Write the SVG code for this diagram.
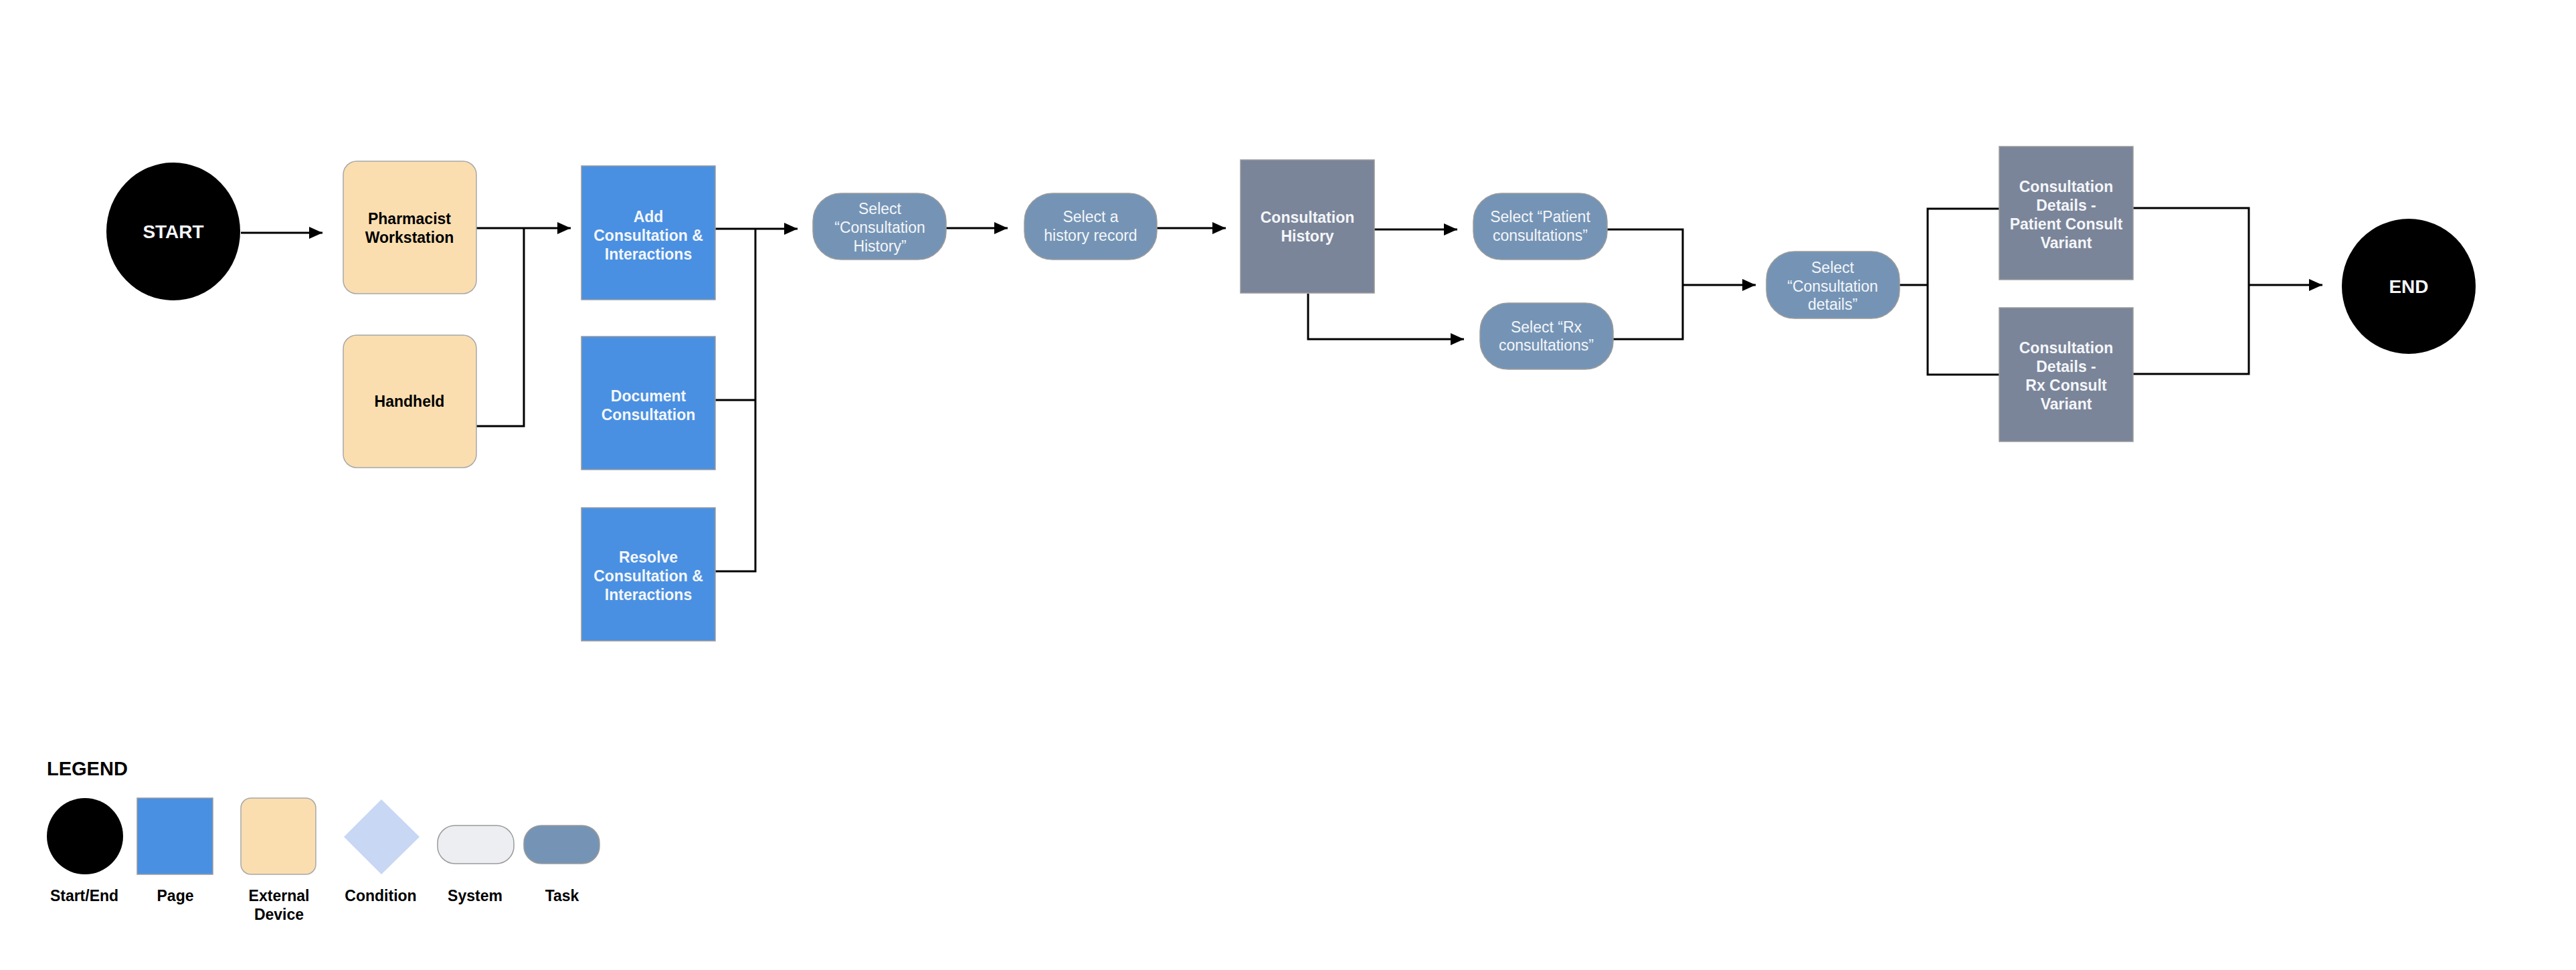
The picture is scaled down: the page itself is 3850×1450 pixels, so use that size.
<svg xmlns="http://www.w3.org/2000/svg" width="3850" height="1450" viewBox="0 0 3850 1450">
<style>
.t{font-family:"Liberation Sans",Arial,Helvetica,sans-serif;font-size:23px;text-anchor:middle}
.b{font-weight:bold}
.w{fill:#f4f6fa}
.k{fill:#000}
.page{fill:#4a90e2;stroke:#9b9b9b;stroke-width:1.5}
.ext{fill:#fadeb0;stroke:#a8a8a8;stroke-width:1.5}
.scr{fill:#7b8599;stroke:#9b9b9b;stroke-width:1.5}
.task{fill:#7594b5;stroke:#9b9b9b;stroke-width:1.5}
.sys{fill:#eceef2;stroke:#9b9b9b;stroke-width:1.5}
.se{fill:#000}
.c{fill:none;stroke:#000;stroke-width:3}
</style>
<defs>
<marker id="ah" markerUnits="userSpaceOnUse" markerWidth="22" markerHeight="20" refX="20" refY="9" orient="auto">
<path d="M0,0 L20,9 L0,18 Z" fill="#000"/>
</marker>
</defs>
<rect width="3850" height="1450" fill="#fff"/>
<g id="connectors">
<path class="c" d="M360 348 H482" marker-end="url(#ah)"/>
<path class="c" d="M712 341 H853" marker-end="url(#ah)"/>
<path class="c" d="M712 637 H783 V341"/>
<path class="c" d="M1069 342 H1192" marker-end="url(#ah)"/>
<path class="c" d="M1069 598 H1129"/>
<path class="c" d="M1069 854 H1129 V342"/>
<path class="c" d="M1414 341 H1506" marker-end="url(#ah)"/>
<path class="c" d="M1729 341 H1832" marker-end="url(#ah)"/>
<path class="c" d="M2054 343 H2178" marker-end="url(#ah)"/>
<path class="c" d="M1955 439 V507 H2188" marker-end="url(#ah)"/>
<path class="c" d="M2402 343 H2515 V507 H2411"/>
<path class="c" d="M2515 426 H2624" marker-end="url(#ah)"/>
<path class="c" d="M2839 426 H2881"/>
<path class="c" d="M2988 312 H2881 V560 H2988"/>
<path class="c" d="M3188 311 H3361 V559 H3188"/>
<path class="c" d="M3361 426 H3471" marker-end="url(#ah)"/>
</g>
<g id="start">
<ellipse class="se" cx="259" cy="346" rx="100" ry="103"/>
<text class="t b w" x="259" y="356" style="font-size:28px">START</text>
</g>
<g id="pharmacist-workstation">
<rect class="ext" x="513" y="241" width="199" height="198" rx="20"/>
<text class="t b k" x="612" y="335">Pharmacist<tspan x="612" dy="28">Workstation</tspan></text>
</g>
<g id="handheld">
<rect class="ext" x="513" y="501" width="199" height="198" rx="20"/>
<text class="t b k" x="612" y="608">Handheld</text>
</g>
<g id="add-consultation">
<rect class="page" x="869" y="248" width="200" height="200"/>
<text class="t b w" x="969" y="332">Add<tspan x="969" dy="28">Consultation &amp;</tspan><tspan x="969" dy="28">Interactions</tspan></text>
</g>
<g id="document-consultation">
<rect class="page" x="869" y="503" width="200" height="199"/>
<text class="t b w" x="969" y="600">Document<tspan x="969" dy="28">Consultation</tspan></text>
</g>
<g id="resolve-consultation">
<rect class="page" x="869" y="759" width="200" height="199"/>
<text class="t b w" x="969" y="841">Resolve<tspan x="969" dy="28">Consultation &amp;</tspan><tspan x="969" dy="28">Interactions</tspan></text>
</g>
<g id="select-consultation-history">
<rect class="task" x="1215" y="289" width="199" height="99" rx="42"/>
<text class="t w" x="1315" y="320">Select<tspan x="1315" dy="28">“Consultation</tspan><tspan x="1315" dy="28">History”</tspan></text>
</g>
<g id="select-history-record">
<rect class="task" x="1531" y="289" width="198" height="99" rx="42"/>
<text class="t w" x="1630" y="332">Select a<tspan x="1630" dy="28">history record</tspan></text>
</g>
<g id="consultation-history">
<rect class="scr" x="1854" y="239" width="200" height="199"/>
<text class="t b w" x="1954" y="333">Consultation<tspan x="1954" dy="28">History</tspan></text>
</g>
<g id="select-patient-consultations">
<rect class="task" x="2202" y="289" width="200" height="99" rx="42"/>
<text class="t w" x="2302" y="332">Select “Patient<tspan x="2302" dy="28">consultations”</tspan></text>
</g>
<g id="select-rx-consultations">
<rect class="task" x="2212" y="453" width="199" height="99" rx="42"/>
<text class="t w" x="2311" y="497">Select “Rx<tspan x="2311" dy="27">consultations”</tspan></text>
</g>
<g id="select-consultation-details">
<rect class="task" x="2640" y="376" width="199" height="100" rx="42"/>
<text class="t w" x="2739" y="408">Select<tspan x="2739" dy="28">“Consultation</tspan><tspan x="2739" dy="27">details”</tspan></text>
</g>
<g id="details-patient-variant">
<rect class="scr" x="2988" y="219" width="200" height="199"/>
<text class="t b w" x="3088" y="287">Consultation<tspan x="3088" dy="28">Details -</tspan><tspan x="3088" dy="28">Patient Consult</tspan><tspan x="3088" dy="28">Variant</tspan></text>
</g>
<g id="details-rx-variant">
<rect class="scr" x="2988" y="460" width="200" height="200"/>
<text class="t b w" x="3088" y="528">Consultation<tspan x="3088" dy="28">Details -</tspan><tspan x="3088" dy="28">Rx Consult</tspan><tspan x="3088" dy="28">Variant</tspan></text>
</g>
<g id="end">
<ellipse class="se" cx="3600" cy="428" rx="100" ry="101"/>
<text class="t b w" x="3600" y="438" style="font-size:28px">END</text>
</g>
<g id="legend">
<text class="t b k" x="70" y="1159" style="text-anchor:start;font-size:29px">LEGEND</text>
<ellipse class="se" cx="127" cy="1250" rx="57" ry="57"/>
<rect class="page" x="205" y="1193" width="113" height="114"/>
<rect class="ext" x="360" y="1193" width="112" height="114" rx="15"/>
<path d="M570 1195 L627 1251 L570 1307 L514 1251 Z" fill="#c7d7f4"/>
<rect class="sys" x="654" y="1234" width="114" height="57" rx="26"/>
<rect class="task" x="783" y="1234" width="113" height="57" rx="26"/>
<text class="t b k" x="126" y="1347">Start/End</text>
<text class="t b k" x="262" y="1347">Page</text>
<text class="t b k" x="417" y="1347">External<tspan x="417" dy="28">Device</tspan></text>
<text class="t b k" x="569" y="1347">Condition</text>
<text class="t b k" x="710" y="1347">System</text>
<text class="t b k" x="840" y="1347">Task</text>
</g>
</svg>
